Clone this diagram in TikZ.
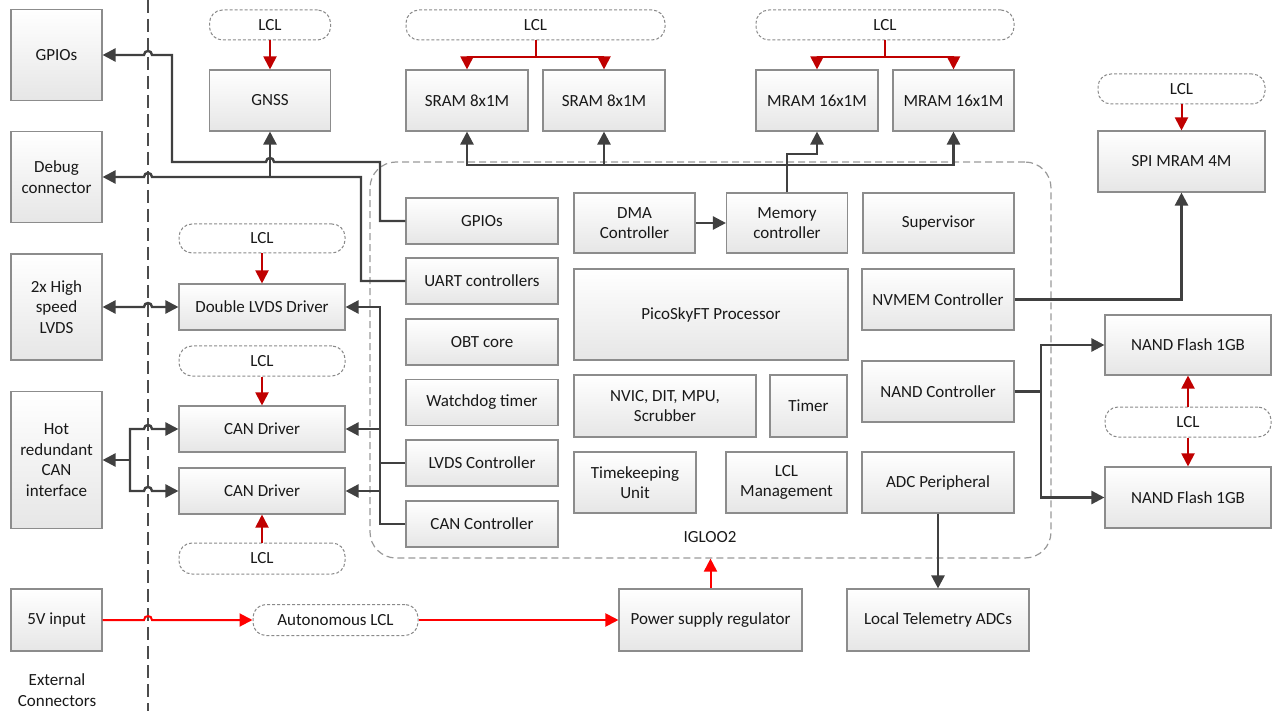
\documentclass[tikz,border=0pt]{standalone}
\usepackage{fontspec}
\setmainfont{Carlito}
\usetikzlibrary{arrows.meta}

\definecolor{wirecol}{HTML}{404040}
\definecolor{lclred}{HTML}{C00000}
\definecolor{pwrred}{HTML}{FF0000}
\definecolor{boxline}{HTML}{8C8C8C}
\definecolor{boxbot}{HTML}{E6E6E6}
\definecolor{dashgray}{HTML}{8A8A8A}

\tikzset{
  every node/.style={font=\fontsize{17}{20.5}\selectfont, text=black!90},
  sz/.style 2 args={minimum width=#1pt, minimum height=#2pt},
  block/.style={draw=boxline, line width=1.1pt, top color=white, bottom color=boxbot,
    align=center, inner sep=2pt},
  lcl/.style={draw=dashgray, line width=1pt, dash pattern=on 3pt off 2pt,
    rounded corners=13pt, fill=white, align=center, inner sep=2pt},
  igloobox/.style={draw=black!40, line width=1.2pt, dash pattern=on 7pt off 4pt,
    rounded corners=26pt},
  sepline/.style={draw=black!70, line width=2pt, dash pattern=on 13pt off 6pt},
  wire/.style={draw=wirecol, line width=2.4pt},
  gtip/.tip={Triangle[length=13pt,width=13pt]},
  rtip/.tip={Triangle[length=13pt,width=13pt]},
  garrow/.style={wire, -gtip},
  gdarrow/.style={wire, gtip-gtip},
  lline/.style={draw=lclred, line width=2pt},
  larrow/.style={lline, -rtip},
  parrow/.style={draw=pwrred, line width=2pt, -rtip},
}

\begin{document}
\begin{tikzpicture}[x=1pt, y=-1pt]
\useasboundingbox (0,0) rectangle (1272,711);

% connector boundary
\draw[sepline] (148,0) -- (148,711);

% FPGA outline
\node[igloobox, sz={681}{396}] (igloo) at (710.5,360) {};
\node (iglooLabel) at (710,537) {IGLOO2};

% external connectors
\node[block, sz={91}{91}]  (extGpio)  at (56.5,55)  {GPIOs};
\node[block, sz={91}{91}]  (extDebug) at (56.5,177) {Debug\\connector};
\node[block, sz={91}{106}] (extLvds)  at (56.5,307) {2x High\\speed\\LVDS};
\node[block, sz={91}{137}] (extCan)   at (56.5,460) {Hot\\redundant\\CAN\\interface};
\node[block, sz={91}{62}]  (ext5v)    at (56.5,620) {5V input};
\node[align=center] (extLabel) at (57,690) {External\\Connectors};

% GNSS and memories
\node[lcl, sz={121}{30}]   (lclGnss) at (270,25)    {LCL};
\node[block, sz={121}{61}] (gnss)    at (270,100.5) {GNSS};
\node[lcl, sz={259}{30}]   (lclSram) at (535.5,25)  {LCL};
\node[block, sz={122}{61}] (sram1)   at (467,100.5) {SRAM 8x1M};
\node[block, sz={122}{61}] (sram2)   at (604,100.5) {SRAM 8x1M};
\node[lcl, sz={258}{30}]   (lclMram) at (885,25)    {LCL};
\node[block, sz={122}{61}] (mram1)   at (817,100.5) {MRAM 16x1M};
\node[block, sz={121}{61}] (mram2)   at (953.5,100.5) {MRAM 16x1M};
\node[lcl, sz={167}{30}]   (lclSpi)  at (1181.5,89) {LCL};
\node[block, sz={167}{61}] (spi)     at (1181.5,161.5) {SPI MRAM 4M};

% drivers
\node[lcl, sz={166}{29}]   (lclLvds) at (262,238.5) {LCL};
\node[block, sz={166}{46}] (lvdsDrv) at (262,307)   {Double LVDS Driver};
\node[lcl, sz={166}{30}]   (lclCan1) at (262,361)   {LCL};
\node[block, sz={166}{46}] (canDrv1) at (262,429)   {CAN Driver};
\node[block, sz={166}{46}] (canDrv2) at (262,491)   {CAN Driver};
\node[lcl, sz={166}{31}]   (lclCan2) at (262,558.5) {LCL};

% FPGA blocks
\node[block, sz={152}{46}] (gpio)    at (482,221) {GPIOs};
\node[block, sz={152}{46}] (uart)    at (482,281) {UART controllers};
\node[block, sz={152}{46}] (obt)     at (482,342) {OBT core};
\node[block, sz={152}{46}] (wdt)     at (482,402.5) {Watchdog timer};
\node[block, sz={152}{46}] (lvdsCtl) at (482,463) {LVDS Controller};
\node[block, sz={152}{46}] (canCtl)  at (482,524) {CAN Controller};
\node[block, sz={121}{60}] (dma)     at (634.5,223) {DMA\\Controller};
\node[block, sz={121}{60}] (memctl)  at (787,223)   {Memory\\controller};
\node[block, sz={151}{60}] (sup)     at (938.5,223) {Supervisor};
\node[block, sz={274}{91}] (proc)    at (711,314.5) {PicoSkyFT Processor};
\node[block, sz={152}{61}] (nvmem)   at (938,299.5) {NVMEM Controller};
\node[block, sz={182}{62}] (nvic)    at (665,406)   {NVIC, DIT, MPU,\\Scrubber};
\node[block, sz={77}{62}]  (timer)   at (808.5,406) {Timer};
\node[block, sz={152}{61}] (nandCtl) at (938,391.5) {NAND Controller};
\node[block, sz={122}{61}] (tku)     at (635,482.5) {Timekeeping\\Unit};
\node[block, sz={121}{61}] (lclMgmt) at (786.5,482.5) {LCL\\Management};
\node[block, sz={152}{61}] (adc)     at (938,482.5) {ADC Peripheral};

% NAND flash
\node[block, sz={166}{60}] (nand1)   at (1188,345)   {NAND Flash 1GB};
\node[lcl, sz={166}{30}]   (lclNand) at (1188,422)   {LCL};
\node[block, sz={166}{61}] (nand2)   at (1188,497.5) {NAND Flash 1GB};

% power and telemetry
\node[lcl, sz={165}{31}]   (autoLcl) at (335.5,620) {Autonomous LCL};
\node[block, sz={183}{62}] (psr)     at (710.5,620) {Power supply regulator};
\node[block, sz={182}{62}] (ltadc)   at (938,620)   {Local Telemetry ADCs};

% GPIO and UART links
\draw[garrow] (gpio.west) -- (380,221) -- (380,162) -- (274,162)
  .. controls (274,156.7) and (266,156.7) .. (266,162) -- (172,162) -- (172,55)
  -- (152,55) .. controls (152,49.7) and (144,49.7) .. (144,55) -- (extGpio.east);
\draw[garrow] (uart.west) -- (361,281) -- (361,177) -- (152,177)
  .. controls (152,171.7) and (144,171.7) .. (144,177) -- (extDebug.east);
\coordinate (jGnss) at (270,177);
\draw[garrow] (jGnss) -- (gnss.south);

% LVDS link
\draw[gdarrow] (extLvds.east) -- (144,307)
  .. controls (144,301.7) and (152,301.7) .. (152,307) -- (lvdsDrv.west);

% redundant CAN links
\coordinate (jCan) at (130,460);
\draw[garrow] (jCan) -- (extCan.east);
\draw[garrow] (jCan) -- (130,429) -- (144,429)
  .. controls (144,423.7) and (152,423.7) .. (152,429) -- (canDrv1.west);
\draw[garrow] (jCan) -- (130,491) -- (144,491)
  .. controls (144,485.7) and (152,485.7) .. (152,491) -- (canDrv2.west);

% controller to driver bus
\draw[garrow] (canCtl.west) -- (380,524) -- (380,307) -- (lvdsDrv.east);
\draw[garrow] (380,429) -- (canDrv1.east);
\draw[garrow] (380,491) -- (canDrv2.east);
\draw[wire] (lvdsCtl.west) -- (380,463);

% memory bus
\draw[garrow] (dma) -- (memctl);
\draw[gdarrow] (sram1.south) -- (467,165) -- (953.5,165) -- (mram2.south);
\draw[garrow] (604,165) -- (sram2.south);
\draw[garrow] (memctl.north) -- (787,154) -- (817,154) -- (mram1.south);

% non-volatile memories
\draw[garrow] (nvmem.east) -| (spi.south);
\coordinate (jNand) at (1041,391.5);
\draw[wire] (nandCtl.east) -- (jNand);
\draw[garrow] (jNand) |- (nand1.west);
\draw[garrow] (jNand) |- (nand2.west);

% telemetry
\draw[garrow] (adc.south) -- (ltadc.north);

% power path
\draw[parrow] (ext5v.east) -- (144,620)
  .. controls (144,614.7) and (152,614.7) .. (152,620) -- (autoLcl.west);
\draw[parrow] (autoLcl.east) -- (psr.west);
\draw[parrow] (psr.north) -- (igloo.south);

% latch-up current limiters
\draw[larrow] (lclGnss.south) -- (gnss.north);
\coordinate (jSram) at (535.5,57);
\draw[lline] (lclSram.south) -- (jSram);
\draw[larrow] (jSram) -| (sram1.north);
\draw[larrow] (jSram) -| (sram2.north);
\coordinate (jMram) at (885,57);
\draw[lline] (lclMram.south) -- (jMram);
\draw[larrow] (jMram) -| (mram1.north);
\draw[larrow] (jMram) -| (mram2.north);
\draw[larrow] (lclSpi.south) -- (spi.north);
\draw[larrow] (lclLvds.south) -- (lvdsDrv.north);
\draw[larrow] (lclCan1.south) -- (canDrv1.north);
\draw[larrow] (lclCan2.north) -- (canDrv2.south);
\draw[larrow] (lclNand.north) -- (nand1.south);
\draw[larrow] (lclNand.south) -- (nand2.north);
\end{tikzpicture}
\end{document}
